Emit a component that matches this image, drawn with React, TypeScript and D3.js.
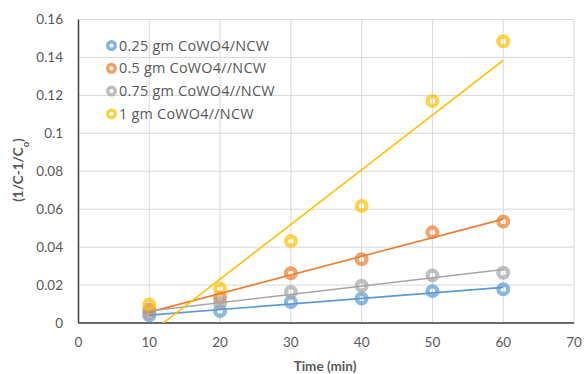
import React from "react";
import * as d3 from "d3";

const times = [10, 20, 30, 40, 50, 60];
const series025 = [0.004, 0.0063, 0.011, 0.0129, 0.0168, 0.0178];
const series05 = [0.007, 0.0134, 0.0262, 0.0336, 0.0478, 0.0535];
const series075 = [0.0052, 0.0106, 0.0164, 0.0196, 0.0251, 0.0265];
const series1 = [0.0098, 0.018, 0.0432, 0.0617, 0.117, 0.1485];
const seriesNames = [
  "0.25 gm CoWO4/NCW",
  "0.5 gm CoWO4//NCW",
  "0.75 gm CoWO4//NCW",
  "1 gm CoWO4//NCW",
];
const seriesColors = ["#5B9BD5", "#ED7D31", "#A5A5A5", "#FFC000"];
const xTicks = [0, 10, 20, 30, 40, 50, 60, 70];
const yTicks = [0, 0.02, 0.04, 0.06, 0.08, 0.1, 0.12, 0.14, 0.16];

const W = 585;
const H = 374;
const FONT = "Lato, 'Open Sans', sans-serif";
const LEGEND_FONT = "'Open Sans', Lato, sans-serif";

function fit(xs: number[], ys: number[]) {
  const mx = d3.mean(xs)!;
  const my = d3.mean(ys)!;
  let sxy = 0;
  let sxx = 0;
  xs.forEach((x, i) => {
    sxy += (x - mx) * (ys[i] - my);
    sxx += (x - mx) * (x - mx);
  });
  const b = sxy / sxx;
  const a = my - b * mx;
  return (x: number) => a + b * x;
}

export default function App() {
  const x = d3.scaleLinear().domain([0, 70]).range([78.5, 574]);
  const y = d3.scaleLinear().domain([0, 0.16]).range([323, 19.5]);
  const all = [series025, series05, series075, series1];

  return (
    <svg
      width={W}
      height={H}
      style={{ position: "absolute", left: 0, top: 0, background: "#fff" }}
    >
      <defs>
        <clipPath id="plot">
          <rect x={x(0)} y={y(0.16)} width={x(70) - x(0)} height={y(0) - y(0.16)} />
        </clipPath>
      </defs>
      {/* gridlines */}
      {yTicks.map((t) => (
        <line
          key={"gy" + t}
          x1={x(0)}
          x2={x(70)}
          y1={y(t)}
          y2={y(t)}
          stroke="#D9D9D9"
          strokeWidth={1}
        />
      ))}
      {xTicks.map((t) => (
        <line
          key={"gx" + t}
          x1={x(t)}
          x2={x(t)}
          y1={y(0)}
          y2={y(0.16)}
          stroke="#D9D9D9"
          strokeWidth={1}
        />
      ))}
      {/* axes */}
      <line x1={x(0)} x2={x(0)} y1={y(0)} y2={y(0.16)} stroke="#404040" strokeWidth={1.5} />
      <line x1={x(0)} x2={x(70)} y1={y(0)} y2={y(0)} stroke="#404040" strokeWidth={1.5} />
      {/* tick labels */}
      {yTicks.map((t) => (
        <text
          key={"ty" + t}
          x={63}
          y={y(t)}
          dy="0.35em"
          textAnchor="end"
          fontFamily={FONT}
          fontSize={13.5}
          fill="#595959"
        >
          {d3.format("~g")(t)}
        </text>
      ))}
      {xTicks.map((t) => (
        <text
          key={"tx" + t}
          x={x(t)}
          y={347}
          textAnchor="middle"
          fontFamily={FONT}
          fontSize={13.5}
          fill="#595959"
        >
          {t}
        </text>
      ))}
      {/* axis titles */}
      <text
        x={325}
        y={371}
        textAnchor="middle"
        fontFamily={FONT}
        fontSize={13.5}
        fontWeight="bold"
        fill="#595959"
      >
        Time (min)
      </text>
      <text
        transform={`translate(23, ${170}) rotate(-90)`}
        textAnchor="middle"
        fontFamily={FONT}
        fontSize={13.5}
        fontWeight="bold"
        fill="#595959"
      >
        (1/C-1/C<tspan baselineShift="sub" fontSize={9.5}>o</tspan>)
      </text>
      {/* markers */}
      {all.map((s, si) =>
        s.map((v, i) => (
          <circle
            key={"m" + si + "-" + i}
            cx={x(times[i])}
            cy={y(v)}
            r={4.8}
            fill="none"
            stroke={seriesColors[si]}
            strokeOpacity={0.7}
            strokeWidth={4.4}
          />
        ))
      )}
      {/* trendlines */}
      <g clipPath="url(#plot)">
        {all.map((s, si) => {
          const f = fit(times, s);
          return (
            <line
              key={"t" + si}
              x1={x(10)}
              y1={y(f(10))}
              x2={x(60)}
              y2={y(f(60))}
              stroke={seriesColors[si]}
              strokeWidth={1.6}
            />
          );
        })}
      </g>
      {/* legend */}
      {seriesNames.map((n, i) => (
        <g key={"l" + i} transform={`translate(0, ${45.5 + i * 22.8})`}>
          <circle
            cx={111.5}
            cy={0}
            r={3.8}
            fill="none"
            stroke={seriesColors[i]}
            strokeOpacity={0.75}
            strokeWidth={3.4}
          />
          <text
            x={119}
            y={0}
            dy="0.35em"
            fontFamily={LEGEND_FONT}
            fontSize={14.4}
            letterSpacing={0.25}
            fill="#595959"
          >
            {n}
          </text>
        </g>
      ))}
    </svg>
  );
}
